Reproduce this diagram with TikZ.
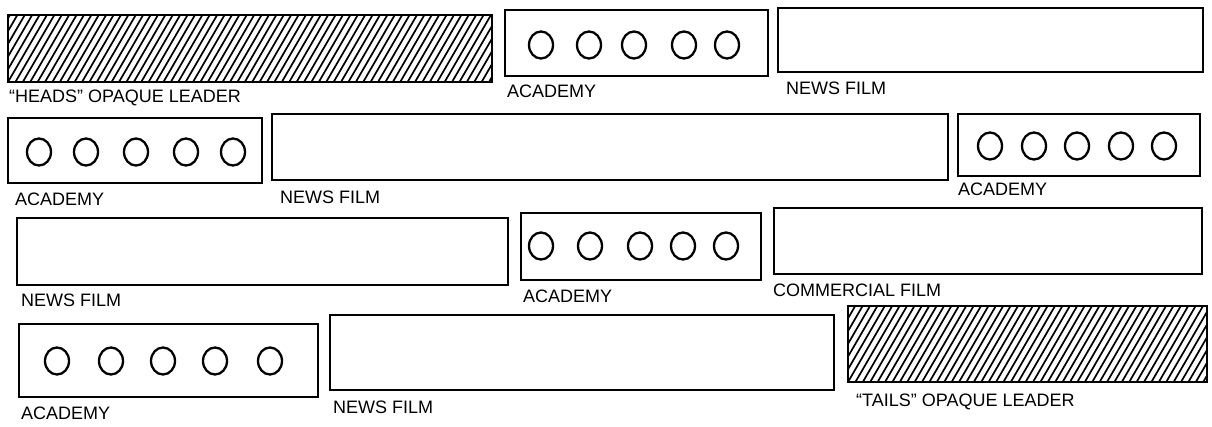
\documentclass[tikz,border=0pt]{standalone}
\usepackage{fontspec}
\setmainfont{Liberation Sans}
\usetikzlibrary{fit,shapes.geometric}
\tikzset{
  frame/.style={draw, line width=1.9pt, inner sep=0pt, outer sep=0pt},
  leader/.style={frame, path picture={
      \foreach \k in {-14,...,90}{
        \draw[line width=1.7pt]
          ([xshift=\k*7.4pt]path picture bounding box.south west) -- ++(50pt,86pt);
      }}},
  hole/.style={draw, ellipse, line width=2.3pt, minimum width=24pt,
               minimum height=27pt, inner sep=0pt},
  lab/.style={anchor=west, inner sep=0pt, font=\fontsize{18}{18}\selectfont}
}
\begin{document}
\begin{tikzpicture}[x=1pt,y=-1pt]
\useasboundingbox (0,0) rectangle (1212,426);

% Row 1
\node[leader, fit={(8,15) (492,82)}] (heads) {};
\node[lab] (headsl) at (9,98) {“HEADS” OPAQUE LEADER};
\node[frame, fit={(505,10) (768,76)}] (acad1) {};
\foreach \x [count=\i] in {541,589,634,684,727}
  \node[hole] (acad1h\i) at (\x,45) {};
\node[lab] (acad1l) at (507,91) {ACADEMY};
\node[frame, fit={(778,8) (1203,72)}] (news1) {};
\node[lab] (news1l) at (786,88) {NEWS FILM};

% Row 2
\node[frame, fit={(8,118) (262,183)}] (acad2) {};
\foreach \x [count=\i] in {39,86,136,186,233}
  \node[hole] (acad2h\i) at (\x,152) {};
\node[lab] (acad2l) at (15,199) {ACADEMY};
\node[frame, fit={(272,114) (948,180)}] (news2) {};
\node[lab] (news2l) at (280,197) {NEWS FILM};
\node[frame, fit={(958,114) (1200,176)}] (acad3) {};
\foreach \x [count=\i] in {990,1034,1077,1121,1164}
  \node[hole] (acad3h\i) at (\x,146) {};
\node[lab] (acad3l) at (958,189) {ACADEMY};

% Row 3
\node[frame, fit={(17,218) (508,285)}] (news3) {};
\node[lab] (news3l) at (21,300) {NEWS FILM};
\node[frame, fit={(521,213) (761,280)}] (acad4) {};
\foreach \x [count=\i] in {541,590,640,683,726}
  \node[hole] (acad4h\i) at (\x,246) {};
\node[lab] (acad4l) at (523,296) {ACADEMY};
\node[frame, fit={(774,208) (1202,274)}] (comm) {};
\node[lab] (comml) at (773,290) {COMMERCIAL FILM};

% Row 4
\node[frame, fit={(19,324) (318,397)}] (acad5) {};
\foreach \x [count=\i] in {57,111,163,215,270}
  \node[hole] (acad5h\i) at (\x,361) {};
\node[lab] (acad5l) at (21,413) {ACADEMY};
\node[frame, fit={(330,315) (834,390)}] (news4) {};
\node[lab] (news4l) at (333,407) {NEWS FILM};
\node[leader, fit={(848,306) (1207,382)}] (tails) {};
\node[lab] (tailsl) at (856,402) {“TAILS” OPAQUE LEADER};
\end{tikzpicture}
\end{document}
